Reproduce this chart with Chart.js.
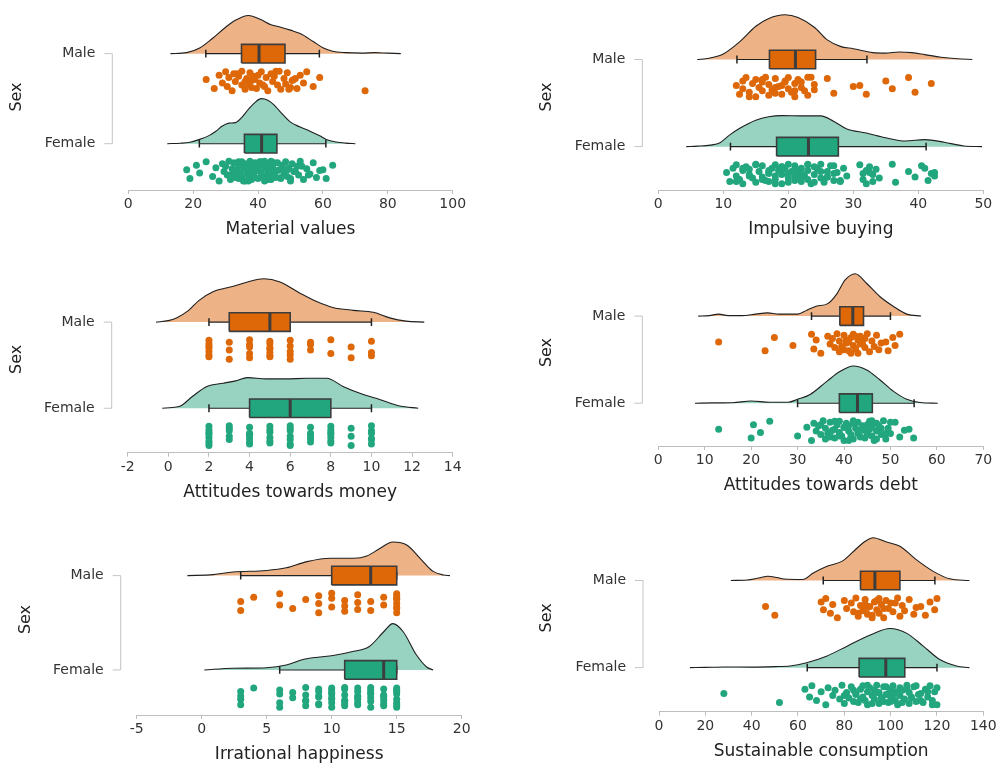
<!DOCTYPE html>
<html>
<head>
<meta charset="utf-8">
<script src="https://cdn.jsdelivr.net/npm/chart.js@4.4.0/dist/chart.umd.min.js"></script>
<style>
html, body { margin: 0; padding: 0; background: #fff; width: 999px; height: 765px; overflow: hidden; }
.panel { position: absolute; }
</style>
</head>
<body>
<div class="panel" id="w1"><canvas id="c1"></canvas></div>
<div class="panel" id="w2"><canvas id="c2"></canvas></div>
<div class="panel" id="w3"><canvas id="c3"></canvas></div>
<div class="panel" id="w4"><canvas id="c4"></canvas></div>
<div class="panel" id="w5"><canvas id="c5"></canvas></div>
<div class="panel" id="w6"><canvas id="c6"></canvas></div>
<script>
// ---- data ----
// density: [value, relative height], box: [lower whisker, q1, median, q3, upper whisker]
const groups = ['Male', 'Female'];

const matTicks = [0, 20, 40, 60, 80, 100];
const matMaleDensity = [[13,0],[18,1],[22,5.7],[26,15.7],[30,27],[33,34],[37,39],[41,34.5],[44,29.5],[47,27],[50,24],[53,20.5],[57,12.4],[60,6],[63,2.4],[67,1],[72,0.5],[76,1],[80,0.5],[84,0]];
const matMaleBox = [23.9, 34.9, 40.3, 48.3, 58.9];
const matMalePoints = [24, 26.5, 28, 29, 30, 30.5, 31, 32, 32.5, 33, 34, 35, 35, 36, 36.5, 37, 37.5, 38, 38, 39, 39.5, 40, 40.5, 41, 42, 42.5, 43, 44, 44.5, 45, 46, 46.5, 47, 48, 48.5, 49, 50, 50.5, 51, 52, 53, 54, 55, 57, 59, 73,
  33.5, 36, 38.5, 41.5, 45.5, 49.5, 51.5];
const matFemaleDensity = [[12,0],[16,0.5],[19,1.5],[22,4.4],[25,8.5],[27,12.7],[29,18],[31,21],[33,21.5],[35,27],[37,35],[39,42],[41,46],[43,44.5],[45,39.5],[47,32],[50,22],[53,17],[56,12.7],[59,8],[61,4.4],[64,1.8],[67,0.6],[70,0]];
const matFemaleBox = [21.9, 35.8, 41.1, 45.8, 60.9];
const matFemalePoints = [18, 19, 21, 22, 24, 26, 27, 28, 29, 29.5, 30, 30.5, 31, 31.5, 32, 32, 32.5, 33, 33, 33.5, 34, 34, 34.5, 35, 35, 35.5, 36, 36, 36.5, 37, 37, 37.5, 38, 38, 38.5, 39, 39, 39.5, 40, 40, 40.5, 41, 41, 41.5, 42, 42, 42.5, 43, 43, 43.5, 44, 44, 44.5, 45, 45, 45.5, 46, 46.5, 47, 47.5, 48, 48.5, 49, 49.5, 50, 50.5, 51, 52, 52.5, 53, 54, 55, 56, 57, 58, 59, 60, 61, 63,
  33, 34, 35, 36, 37, 38, 39, 40, 41, 42, 43, 44, 45, 46, 47, 48, 49, 50, 36.5, 38.5, 40.5, 42.5, 44.5, 35.5, 39.5, 51.5, 53.5, 55.5];

const impTicks = [0, 10, 20, 30, 40, 50];
const impMaleDensity = [[6,0],[7.5,1],[10,5.7],[12.5,18],[15,34],[17,42],[19.5,45.7],[21.5,43],[24,33],[26,20],[28,13.4],[30,11],[33,7],[35,6.5],[37,7.7],[39,7],[41,5],[43.5,2.3],[46,0.7],[48.3,0]];
const impMaleBox = [12.1, 17.1, 21.1, 24.2, 32.1];
const impMalePoints = [12, 12.5, 13, 13, 13.5, 14, 14.5, 15, 15, 15.5, 16, 16, 16.5, 17, 17, 17.5, 18, 18, 18.5, 19, 19, 19.5, 20, 20, 20.5, 21, 21, 21.5, 22, 22, 22.5, 23, 23, 24, 24, 26, 27, 30, 31, 32, 35, 36, 38.5, 39.5, 42,
  14, 16, 18, 19.5, 21, 23.5];
const impFemaleDensity = [[4.3,0],[6,0.5],[8,1.5],[9.5,4],[11,12],[12.6,19],[15,27],[17,30.5],[19,31.7],[22,31.4],[25,31.4],[27,25.7],[29,18],[32,14],[35,9],[38,5.7],[41,7.2],[44,4.5],[47,0.7],[49.8,0]];
const impFemaleBox = [11.1, 18.2, 23.1, 27.7, 41.2];
const impFemalePoints = [10.5, 11, 11.5, 12, 12, 12.5, 13, 13, 13.5, 14, 14, 14.5, 15, 15, 15.5, 16, 16, 16.5, 17, 17, 17, 17.5, 18, 18, 18, 18.5, 19, 19, 19, 19.5, 20, 20, 20, 20.5, 21, 21, 21, 21.5, 22, 22, 22, 22.5, 23, 23, 23, 23.5, 24, 24, 24.5, 25, 25, 25.5, 26, 26, 26.5, 27, 27, 27.5, 28, 28.5, 29, 31, 31.5, 32, 32, 32.5, 33, 33.5, 34, 36, 36.5, 38.5, 39.5, 40.5, 41.5, 42, 42.5,
  12, 13, 14, 15, 16, 17, 18, 19, 20, 21, 22, 23, 24, 25, 26, 27, 28, 31.5, 32.5, 33, 41, 42.5];

const monTicks = [-2, 0, 2, 4, 6, 8, 10, 12, 14];
const monMaleDensity = [[-0.6,0],[0,1.5],[0.4,4.3],[1,12],[1.5,22],[2.2,31],[3.2,36.6],[3.9,41],[4.7,44.3],[5.5,41],[6.5,29.3],[7.3,21],[8.1,15],[9.1,12],[10.1,10],[10.9,4.3],[11.7,1],[12.6,0]];
const monMaleBox = [2, 3, 5, 6, 10];
const monMalePoints = [2,2,2,2,2,2,2,3,3,3,4,4,4,4,4,5,5,5,5,5,5,5,6,6,6,6,6,7,7,7,8,8,9,9,10,10,10];
const monFemaleDensity = [[-0.3,0],[0.2,0.8],[0.6,2.3],[1.2,12.3],[1.9,22.3],[2.7,25.6],[3.3,28],[3.9,31.3],[4.8,30],[5.8,30],[6.8,30.6],[7.8,30.6],[8.6,22.3],[9.6,14],[10.4,9],[11.4,2.3],[12.3,0]];
const monFemaleBox = [2, 4, 6, 8, 10];
const monFemalePoints = [2,2,2,2,2,2,2,2,3,3,3,3,3,4,4,4,4,4,4,4,5,5,5,5,5,5,6,6,6,6,6,6,6,7,7,7,7,7,8,8,8,8,8,8,8,9,9,9,10,10,10,10,10,10];

const debtTicks = [0, 10, 20, 30, 40, 50, 60, 70];
const debtMaleDensity = [[8.6,0],[11,0.5],[13,2],[15,0.5],[18,0.5],[21,2],[23.5,3.3],[26,2],[30,2],[32,6],[34,10],[36.5,12.7],[38.5,23],[40.2,36.7],[42.4,43.3],[44.9,33.3],[47.7,20],[50.6,10],[53.5,2],[56.6,0]];
const debtMaleBox = [33.0, 39.1, 41.9, 44.2, 50.0];
const debtMalePoints = [13, 23, 25, 29, 33, 33.5, 34, 35, 36.5, 37, 37.5, 38, 38.5, 39, 39, 39.5, 40, 40, 40.5, 41, 41, 41.5, 42, 42, 42.5, 43, 43, 43.5, 44, 44, 44.5, 45, 45.5, 46, 46.5, 47, 47.5, 48, 49, 49.5, 50.5, 51, 52,
  39.5, 40.5, 41.5, 42.5, 43.5, 44.5];
const debtFemaleDensity = [[7.9,0],[12,0.3],[16,0.5],[20,2.3],[24,1],[28,1],[30,4],[32.7,9],[36.3,22.3],[39.1,32.3],[42,38],[44.9,34],[47.7,24],[50.6,12.3],[53.5,4],[56.4,0.7],[60.2,0]];
const debtFemaleBox = [30.0, 39.0, 42.9, 46.1, 55.1];
const debtFemalePoints = [13, 20, 20.5, 22, 24, 30, 32, 33, 33.5, 34, 34.5, 35, 35.5, 36, 36, 36.5, 37, 37, 37.5, 38, 38, 38.5, 39, 39, 39.5, 40, 40, 40.5, 41, 41, 41.5, 42, 42, 42.5, 43, 43, 43.5, 44, 44, 44.5, 45, 45, 45.5, 46, 46, 46.5, 47, 47, 47.5, 48, 48.5, 49, 49.5, 50, 51, 52, 53, 54, 55,
  35, 37, 38, 39, 40, 41, 42, 43, 44, 45, 46, 47, 48, 49, 50, 41.5, 43.5, 45.5];

const hapTicks = [-5, 0, 5, 10, 15, 20];
const hapMaleDensity = [[-1.1,0],[0.9,1],[2.4,3.7],[5,5.3],[6.5,8],[8.1,14.3],[9.9,17.7],[11.7,17.7],[12.7,20],[13.7,27.7],[14.7,34.3],[15.8,31],[16.8,17.7],[17.8,4.3],[18.6,0.7],[19.1,0]];
const hapMaleBox = [3, 10, 13, 15, 15];
const hapMalePoints = [3,3,4,6,6,7,8,9,9,9,10,10,10,11,11,11,12,12,12,13,13,14,14,15,15,15,15,15,15,15,15];
const hapFemaleDensity = [[0.2,0],[2.4,1.7],[5,2.3],[6.5,5],[7.8,10.7],[8.9,13],[10.1,14.7],[11.7,19],[12.9,24],[14,39],[14.7,47.3],[15.5,39],[16.5,15.7],[17.3,3],[17.8,0]];
const hapFemaleBox = [6, 11, 14, 15, 15];
const hapFemalePoints = [3,3,3,3,4,6,6,6,6,7,7,8,8,8,8,8,9,9,9,9,9,9,10,10,10,10,10,10,10,10,11,11,11,11,11,11,11,12,12,12,12,12,12,12,13,13,13,13,13,13,13,14,14,14,14,14,14,14,15,15,15,15,15,15,15,15];

const susTicks = [0, 20, 40, 60, 80, 100, 120, 140];
const susMaleDensity = [[31,0],[38,0.5],[43,2.5],[47,4.3],[51,3],[54,1.5],[62,1],[66.6,7.7],[72.3,14.3],[79.5,20.3],[85.3,32.7],[89,40],[92.5,43.7],[98.2,39.3],[104,35],[111.2,21],[118.4,9.3],[125.5,1.7],[134,0]];
const susMaleBox = [70.9, 87, 93.2, 104, 119.1];
const susMalePoints = [46, 50, 70, 71, 72, 74, 75, 77, 80, 81, 83, 84, 85, 86, 87, 88, 89, 90, 90, 91, 92, 93, 94, 95, 95, 96, 97, 98, 99, 100, 101, 103, 104, 105, 106, 108, 110, 111, 113, 115, 117, 119, 120,
  86, 89, 92, 94, 97, 102];
const susFemaleDensity = [[13.4,0],[20,0.3],[28,0.7],[40,0.5],[50,1],[56.5,1.7],[63.7,5],[72.3,11.7],[81,21.7],[91.2,33.3],[99.7,40],[107,35],[114.2,21.7],[121.2,8.3],[128.4,1.7],[134,0]];
const susFemaleBox = [64, 86.4, 97.9, 106.1, 120];
const susFemalePoints = [28, 52, 63, 65, 66, 68, 70, 72, 73, 75, 76, 78, 79, 80, 81, 82, 83, 84, 85, 85, 86, 87, 88, 88, 89, 90, 90, 91, 92, 93, 93, 94, 95, 95, 96, 97, 97, 98, 99, 99, 100, 100, 101, 102, 102, 103, 104, 104, 105, 106, 107, 108, 108, 109, 110, 111, 112, 113, 114, 115, 116, 117, 118, 119, 120, 120,
  80, 84, 87, 90, 92, 94, 96, 98, 100, 101, 103, 105, 107, 109, 111, 113, 116, 118];

// ---- look ----
Chart.defaults.font.family = "'DejaVu Sans', Verdana, sans-serif";
const colors = {
  Male: { light: 'rgba(217,95,2,0.48)', solid: 'rgb(222,104,8)' },
  Female: { light: 'rgba(27,158,119,0.45)', solid: 'rgb(34,166,126)' }
};
// vertical jitter pattern for the rain points (fractions of the band half-height)
const jitterPattern = [0.15, -0.75, 0.6, -0.2, 0.95, -0.55, 0.35, -1, 0.75, -0.05, 0.5, -0.4, 1, -0.85, 0.25, -0.3, 0.85, -0.65, 0.05];

// panel placement on the page (px)
const panels = [
  { id: 1, left: 0,   top: 0,   x0: 128.3, x1: 452.7, maleY: 50.7,  femaleY: 142.7, axisY: 190,   ticks: matTicks,  title: 'Material values',
    data: { Male: [matMaleDensity, matMaleBox, matMalePoints], Female: [matFemaleDensity, matFemaleBox, matFemalePoints] } },
  { id: 2, left: 530, top: 0,   x0: 658.3, x1: 983.3, maleY: 56.7,  femaleY: 145.7, axisY: 190,   ticks: impTicks,  title: 'Impulsive buying',
    data: { Male: [impMaleDensity, impMaleBox, impMalePoints], Female: [impFemaleDensity, impFemaleBox, impFemalePoints] } },
  { id: 3, left: 0,   top: 262, x0: 127.7, x1: 452.7, maleY: 319.3, femaleY: 407.3, axisY: 452.7, ticks: monTicks,  title: 'Attitudes towards money',
    data: { Male: [monMaleDensity, monMaleBox, monMalePoints], Female: [monFemaleDensity, monFemaleBox, monFemalePoints] } },
  { id: 4, left: 530, top: 255, x0: 658.3, x1: 983.3, maleY: 313.3, femaleY: 402.3, axisY: 446,   ticks: debtTicks, title: 'Attitudes towards debt',
    data: { Male: [debtMaleDensity, debtMaleBox, debtMalePoints], Female: [debtFemaleDensity, debtFemaleBox, debtFemalePoints] } },
  { id: 5, left: 9,   top: 520, x0: 136.7, x1: 461.7, maleY: 572.7, femaleY: 669,   axisY: 715,   ticks: hapTicks,  title: 'Irrational happiness',
    data: { Male: [hapMaleDensity, hapMaleBox, hapMalePoints], Female: [hapFemaleDensity, hapFemaleBox, hapFemalePoints] } },
  { id: 6, left: 530, top: 520, x0: 659,   x1: 983.3, maleY: 577.7, femaleY: 666.7, axisY: 711.7, ticks: susTicks,  title: 'Sustainable consumption',
    data: { Male: [susMaleDensity, susMaleBox, susMalePoints], Female: [susFemaleDensity, susFemaleBox, susFemalePoints] } }
];

const X_AXIS_H = 56;

// bracket-style y axis line, offset to the left of the plot
const bracketPlugin = {
  id: 'bracket',
  afterDraw(chart) {
    const y = chart.scales.y;
    const x = chart.chartArea.left - 16;
    const yTop = y.getPixelForValue(1), yBot = y.getPixelForValue(0);
    const ctx = chart.ctx;
    ctx.save();
    ctx.strokeStyle = '#c4c4c4';
    ctx.lineWidth = 1;
    ctx.beginPath();
    ctx.moveTo(x - 8, yTop); ctx.lineTo(x, yTop); ctx.lineTo(x, yBot); ctx.lineTo(x - 8, yBot);
    ctx.stroke();
    ctx.restore();
  }
};

function groupDatasets(density, box, points, base, unit, c) {
  const [lo, q1, med, q3, hi] = box;
  const bh = 9.5 / unit, cap = 4 / unit;
  const rainOff = 28 / unit, rainHalf = 10 / unit;
  return [
    { data: points.map((v, i) => ({ x: v, y: base - rainOff + jitterPattern[i % jitterPattern.length] * rainHalf })),
      showLine: false, pointRadius: 3.5, pointBackgroundColor: c.solid, pointBorderWidth: 0, order: 0 },
    { data: [{ x: med, y: base - bh }, { x: med, y: base + bh }],
      borderColor: '#3d3d3d', borderWidth: 3, pointRadius: 0, order: 1 },
    { data: [{ x: q1, y: base - bh }, { x: q3, y: base - bh }, { x: q3, y: base + bh }, { x: q1, y: base + bh }, { x: q1, y: base - bh }],
      fill: 'shape', backgroundColor: c.solid, borderColor: '#3d3d3d', borderWidth: 1.6, pointRadius: 0, order: 2 },
    { data: [{ x: lo, y: base - cap }, { x: lo, y: base + cap }, { x: lo, y: null }, { x: hi, y: base - cap }, { x: hi, y: base + cap }],
      borderColor: '#222', borderWidth: 1.5, pointRadius: 0, spanGaps: false, order: 3 },
    { data: [{ x: lo, y: base }, { x: hi, y: base }],
      borderColor: '#222', borderWidth: 1.1, pointRadius: 0, order: 4 },
    { data: density.map(([v, h]) => ({ x: v, y: base + h / unit })),
      fill: { value: base }, backgroundColor: c.light, borderColor: '#1f1f1f', borderWidth: 1.1,
      pointRadius: 0, cubicInterpolationMode: 'monotone', order: 5 }
  ];
}

function drawPanel(p) {
  const w = p.left < 100 ? 481 : 999 - p.left;
  const h = Math.round(p.axisY - p.top + X_AXIS_H);
  const wrap = document.getElementById('w' + p.id);
  wrap.style.left = p.left + 'px';
  wrap.style.top = p.top + 'px';
  wrap.style.width = w + 'px';
  wrap.style.height = h + 'px';

  const unit = p.femaleY - p.maleY;
  const yMax = 1 + (p.maleY - p.top) / unit;
  const yMin = -(p.axisY - p.femaleY) / unit;
  const yAxisW = p.x0 - p.left;
  const xAxisH = p.top + h - p.axisY;
  const padRight = w - (p.x1 - p.left);

  let datasets = [];
  groups.forEach((g, gi) => {
    const [dens, box, pts] = p.data[g];
    datasets = datasets.concat(groupDatasets(dens, box, pts, gi === 0 ? 1 : 0, unit, colors[g]));
  });

  new Chart(document.getElementById('c' + p.id), {
    type: 'line',
    data: { datasets: datasets },
    plugins: [bracketPlugin],
    options: {
      responsive: true,
      maintainAspectRatio: false,
      animation: false,
      events: [],
      layout: { padding: { left: 0, top: 0, bottom: 0, right: padRight } },
      plugins: { legend: { display: false }, tooltip: { enabled: false } },
      scales: {
        x: {
          type: 'linear',
          min: p.ticks[0],
          max: p.ticks[p.ticks.length - 1],
          afterBuildTicks: s => { s.ticks = p.ticks.map(v => ({ value: v })); },
          afterFit: s => { s.height = xAxisH; s.paddingLeft = 0; s.paddingRight = 0; },
          grid: { drawOnChartArea: false, drawTicks: true, tickLength: 4, color: '#bdbdbd' },
          border: { display: true, color: '#bdbdbd' },
          ticks: { padding: 2, color: '#333', font: { size: 14 }, maxRotation: 0, autoSkip: false },
          title: { display: true, text: p.title, color: '#222', font: { size: 17 }, padding: { top: 4, bottom: 6 } }
        },
        y: {
          type: 'linear',
          min: yMin,
          max: yMax,
          afterBuildTicks: s => { s.ticks = [{ value: 1 }, { value: 0 }]; },
          afterFit: s => { s.width = yAxisW; s.paddingTop = 0; s.paddingBottom = 0; },
          grid: { display: false, drawTicks: false },
          border: { display: false },
          ticks: { padding: 33, color: '#333', font: { size: 14 }, autoSkip: false,
                   callback: v => v === 1 ? groups[0] : (v === 0 ? groups[1] : '') },
          title: { display: true, text: 'Sex', color: '#222', font: { size: 16 }, padding: { top: 7.4, bottom: 0 } }
        }
      }
    }
  });
}

panels.forEach(drawPanel);
</script>
</body>
</html>
